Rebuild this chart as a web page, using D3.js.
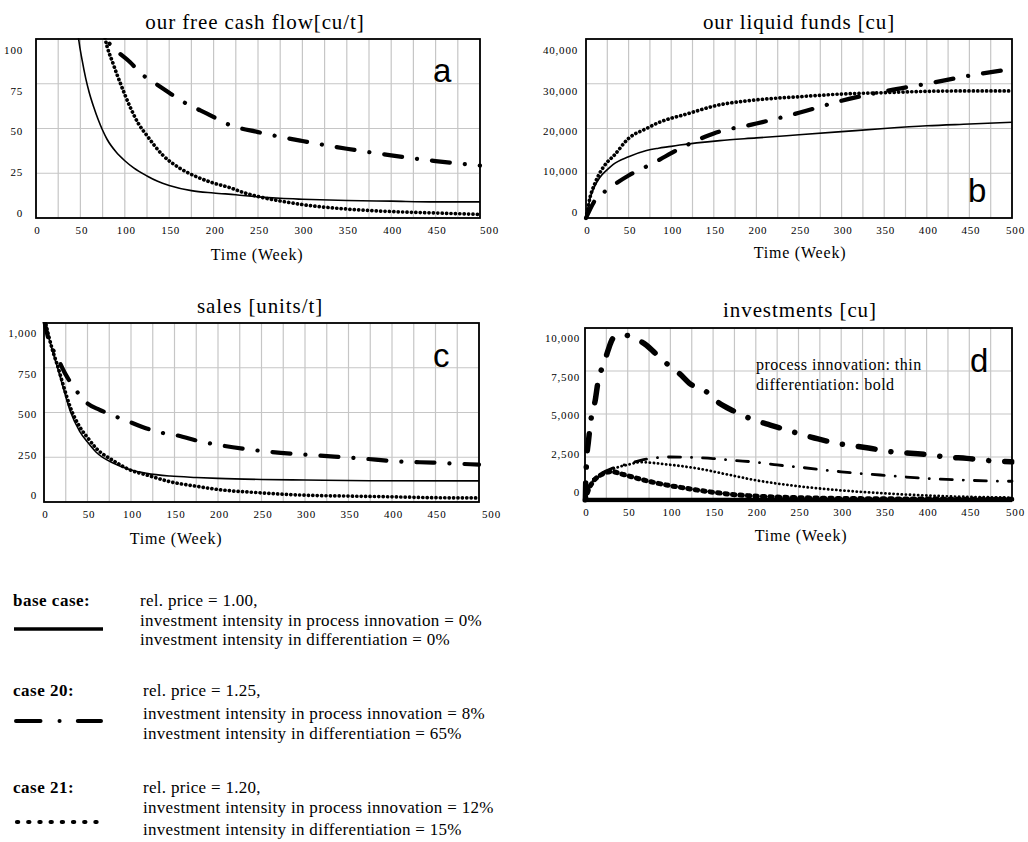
<!DOCTYPE html>
<html><head><meta charset="utf-8">
<script src="https://cdn.jsdelivr.net/npm/d3@7"></script>
<style>body{margin:0;background:#fff}svg{display:block}</style>
</head><body><svg id="chart" width="1028" height="842"></svg>
<script>
// ---------------- DATA ----------------
const xTickLabels = [0,50,100,150,200,250,300,350,400,450,500];
const xGrid = d3.range(0, 501, 25);

// a: our free cash flow [cu/t]   ([week, value])
const fcfTicks = [0,25,50,75,100];
const fcfBase   = [[40,140],[45,114],[48,100],[52,88],[56,78],[60,70],[65,62],[70,55],[75,49],[80,44],[90,37],[100,32],[110,28],[125,23.5],[137,20.5],[150,18.2],[175,15.3],[200,14],[225,13],[250,11.8],[275,11],[300,10.5],[350,9.8],[400,9.4],[450,9],[500,9]];
const fcfCase20 = [[72,115],[76,106],[80,100],[90,94],[106,87],[120,80],[132,76],[150,70],[162,66],[175,62.5],[192,58.5],[218,52],[250,48],[300,43],[350,38.7],[400,35],[450,31.8],[500,29.3]];
const fcfCase21 = [[70,125],[75,108],[78,100],[87,86],[96,74],[106,62],[115,53],[125,46],[143,35],[162,27.8],[181,23],[200,19.5],[218,17],[235,14],[250,12],[275,9.5],[300,7.5],[350,5],[400,3.6],[450,2.8],[500,2]];

// b: our liquid funds [cu]
const fundsTicks = [0,10000,20000,30000,40000];
const fundsBase   = [[0,0],[5,4500],[10,7000],[16,9000],[25,10800],[32,12000],[50,13700],[71,15100],[85,15600],[100,16000],[110,16300],[157,17300],[200,17900],[250,18600],[300,19300],[350,20000],[400,20600],[450,21000],[500,21400]];
const fundsCase20 = [[0,0],[10,3800],[25,6300],[32,7300],[50,9500],[75,11900],[87,13100],[100,14500],[125,16900],[139,18100],[150,18900],[200,21100],[250,23500],[300,26200],[350,28300],[400,30000],[450,31800],[500,33300]];
const fundsCase21 = [[0,0],[5,4800],[10,7500],[16,10000],[25,12500],[32,13800],[50,17800],[71,20000],[85,21300],[100,22300],[110,22800],[157,25300],[200,26400],[250,27100],[300,27700],[350,28000],[400,28300],[450,28400],[500,28400]];

// c: sales [units/t]
const salesTicks = [0,250,500,750,1000];
const salesBase   = [[0,1040],[5,930],[10,840],[15,760],[22,640],[30,510],[41,395],[50,335],[60,278],[80,216],[99,180],[118,160],[145,145],[175,137],[200,132],[250,126],[300,123],[375,119],[500,118]];
const salesCase20 = [[0,1020],[7,880],[13,830],[24,720],[30,672],[41,598],[49,555],[64,515],[76,490],[99,446],[118,411],[137,385],[150,375],[180,338],[217,306],[256,282],[305,263],[363,244],[409,226],[447,220],[490,211],[500,209]];
const salesCase21 = [[0,1040],[5,935],[10,845],[15,770],[22,655],[30,532],[41,420],[50,360],[60,300],[80,230],[99,179],[118,151],[145,113],[175,88],[200,70],[250,51],[300,38],[350,33],[400,29],[450,24],[500,23]];

// d: investments [cu]
const invTicks = [0,2500,5000,7500,10000];
const invBase         = [[0,0],[500,0]];
const invCase20Diff   = [[0,0],[2,2400],[4,3400],[8,5000],[12,5800],[15,6800],[23,8050],[27,8700],[33,9400],[45,9600],[58,9400],[72,9000],[82,8550],[100,7750],[111,7330],[122,6800],[142,6300],[154,5750],[175,5150],[200,4615],[217,4360],[243,3970],[256,3780],[273,3550],[299,3260],[316,3140],[332,3020],[363,2780],[381,2720],[398,2650],[428,2480],[447,2420],[463,2330],[500,2220]];
const invCase20Proc   = [[0,0],[5,900],[15,1400],[30,1800],[50,2100],[65,2300],[78,2420],[100,2500],[121,2480],[150,2410],[175,2300],[200,2200],[225,2040],[256,1880],[300,1640],[357,1410],[398,1260],[442,1160],[478,1100],[500,1090]];
const invCase21Proc   = [[0,0],[5,800],[15,1300],[30,1750],[50,2050],[66,2200],[92,2090],[131,1840],[170,1450],[200,1150],[250,800],[300,560],[350,390],[400,260],[450,180],[500,140]];
const invCase21Diff   = [[0,0],[5,700],[10,1100],[20,1500],[31,1650],[45,1480],[72,1120],[100,830],[111,740],[150,450],[178,300],[220,180],[275,110],[350,70],[425,50],[500,40]];

// legend
const legendCases = ["base case:", "case 20:", "case 21:"];
const legendLines = [
  ["rel. price = 1.00,", "investment intensity in process innovation = 0%", "investment intensity in differentiation = 0%"],
  ["rel. price = 1.25,", "investment intensity in process innovation = 8%", "investment intensity in differentiation = 65%"],
  ["rel. price = 1.20,", "investment intensity in process innovation = 12%", "investment intensity in differentiation = 15%"]
];

// ---------------- STYLES / LAYOUT ----------------
const styles = {
  solid:       {w:1.6, dash:null},
  dashdot:     {w:4.2, dash:"18 15 0.1 15"},
  dotted:      {w:3.7, dash:"0.1 4.3"},
  thinDashdot: {w:2.8, dash:"12 11 0.1 11"},
  boldDashdot: {w:5.5, dash:"17 16 0.1 16"},
  thinDotted:  {w:2.8, dash:"0.1 4"},
  boldDotted:  {w:5,   dash:"2.5 5"},
  boldSolid:   {w:4.5, dash:null}
};
const SERIF = "'Liberation Serif','Times New Roman',serif";
const SANS = "'Liberation Sans',Arial,sans-serif";

const panels = [
  {id:"a", box:{l:36,r:480,t:39,b:218}, domain:[0,100], ticks:fcfTicks, labRight:23, labTop:50, labBot:212.5,
   title:"our free cash flow[cu/t]", titleX:255, titleY:29, xlabX:257, xlabY:260, lastShift:9,
   letterX:433, letterY:82,
   series:[[fcfBase,"solid"],[fcfCase21,"dotted"],[fcfCase20,"dashdot"]]},
  {id:"b", box:{l:586,r:1012,t:39,b:218}, domain:[0,40000], ticks:fundsTicks, labRight:578, labTop:50.3, labBot:211.7,
   title:"our liquid funds [cu]", titleX:799, titleY:29, xlabX:800, xlabY:258, lastShift:3,
   letterX:968, letterY:202,
   series:[[fundsBase,"solid"],[fundsCase21,"dotted"],[fundsCase20,"dashdot"]]},
  {id:"c", box:{l:44,r:479,t:323,b:502}, domain:[0,1000], ticks:salesTicks, labRight:37, labTop:333.3, labBot:495,
   title:"sales [units/t]", titleX:260, titleY:313, xlabX:176, xlabY:544, lastShift:12,
   letterX:433, letterY:367,
   series:[[salesBase,"solid"],[salesCase21,"dotted"],[salesCase20,"dashdot"]]},
  {id:"d", box:{l:585,r:1012,t:328,b:500}, domain:[0,10000], ticks:invTicks, labRight:580, labTop:338.3, labBot:492,
   title:"investments [cu]", titleX:800, titleY:317, xlabX:801, xlabY:541, lastShift:3,
   letterX:970, letterY:372,
   series:[[invCase21Diff,"boldDotted"],[invCase21Proc,"thinDotted"],[invCase20Proc,"thinDashdot"],[invCase20Diff,"boldDashdot"],[invBase,"boldSolid"]],
   note:["process innovation: thin","differentiation: bold"]}
];

// ---------------- DRAW ----------------
const svg = d3.select("#chart");
svg.append("rect").attr("width",1028).attr("height",842).attr("fill","#fff");
const defs = svg.append("defs");

panels.forEach(p => {
  const B = p.box;
  const x = d3.scaleLinear().domain([0,500]).range([B.l, B.r]);
  const y = d3.scaleLinear().domain(p.domain).range([B.b, B.t]);
  const yLab = d3.scaleLinear().domain(p.domain).range([p.labBot, p.labTop]);
  const g = svg.append("g");

  // grid
  g.append("g").selectAll("line").data(xGrid).join("line")
    .attr("x1", d=>x(d)).attr("x2", d=>x(d)).attr("y1", B.t).attr("y2", B.b)
    .attr("stroke","#c6c6c6").attr("stroke-width",1.2);
  g.append("g").selectAll("line").data(p.ticks).join("line")
    .attr("x1", B.l).attr("x2", B.r).attr("y1", d=>y(d)).attr("y2", d=>y(d))
    .attr("stroke","#c6c6c6").attr("stroke-width",1.2);

  // y labels
  const ya = g.append("g").attr("transform",`translate(${p.labRight},0)`)
    .call(d3.axisLeft(yLab).tickValues(p.ticks).tickSize(0).tickPadding(0).tickFormat(d3.format(",")));
  ya.select(".domain").remove();
  ya.selectAll("text").attr("font-family",SERIF).attr("font-size",11).attr("letter-spacing",0.8).attr("fill","#000");

  // x labels
  const xa = g.append("g").attr("transform",`translate(0,${B.b})`)
    .call(d3.axisBottom(x).tickValues(xTickLabels).tickSize(0).tickPadding(8.5));
  xa.select(".domain").remove();
  xa.selectAll("text").attr("font-family",SERIF).attr("font-size",11).attr("letter-spacing",0.8).attr("fill","#000")
    .attr("dx", d => d===500 ? p.lastShift : 1);

  // clip
  const cid = "clip-"+p.id;
  defs.append("clipPath").attr("id",cid).append("rect")
    .attr("x",B.l-2.5).attr("y",B.t-1).attr("width",B.r-B.l+5).attr("height",B.b-B.t+3.5);

  const line = d3.line().x(d=>x(d[0])).y(d=>y(d[1])).curve(d3.curveMonotoneX);
  const lg = g.append("g").attr("clip-path",`url(#${cid})`);
  p.series.forEach(([data, st]) => {
    const s = styles[st];
    lg.append("path").attr("d", line(data)).attr("fill","none").attr("stroke","#000")
      .attr("stroke-width", s.w).attr("stroke-linecap", s.dash ? "round" : "butt")
      .attr("stroke-linejoin","round")
      .attr("stroke-dasharray", s.dash);
  });

  // border
  g.append("rect").attr("x",B.l).attr("y",B.t).attr("width",B.r-B.l).attr("height",B.b-B.t)
    .attr("fill","none").attr("stroke","#000").attr("stroke-width",1.8);

  // title, axis label, letter
  g.append("text").attr("x",p.titleX).attr("y",p.titleY).attr("text-anchor","middle")
    .attr("font-family",SERIF).attr("font-size",21).attr("letter-spacing",0.9).text(p.title);
  g.append("text").attr("x",p.xlabX).attr("y",p.xlabY).attr("text-anchor","middle")
    .attr("font-family",SERIF).attr("font-size",16).attr("letter-spacing",0.8).text("Time (Week)");
  g.append("text").attr("x",p.letterX).attr("y",p.letterY)
    .attr("font-family",SANS).attr("font-size",33).text(p.id);

  if (p.note) {
    p.note.forEach((t,i) => g.append("text").attr("x",756).attr("y",370+i*20)
      .attr("font-family",SERIF).attr("font-size",16).attr("letter-spacing",0.5).text(t));
  }
});

// ---------------- LEGEND ----------------
const leg = svg.append("g");
const legBase = [606, 696, 793];
const legText = [[606,625.5,645],[696,719,739],[793,813,835]];
const legTextX = [140,143,143];
legendCases.forEach((c,i) => {
  leg.append("text").attr("x",13).attr("y",legBase[i]).attr("font-family",SERIF)
    .attr("font-weight","bold").attr("font-size",17).attr("letter-spacing",0.5).text(c);
  legendLines[i].forEach((t,j) => {
    leg.append("text").attr("x",legTextX[i]).attr("y",legText[i][j]).attr("font-family",SERIF)
      .attr("font-size",17).attr("letter-spacing",0.3).text(t);
  });
});
// samples
leg.append("line").attr("x1",14).attr("x2",103).attr("y1",629).attr("y2",629)
  .attr("stroke","#000").attr("stroke-width",3.7);
leg.append("line").attr("x1",16).attr("x2",101).attr("y1",721).attr("y2",721)
  .attr("stroke","#000").attr("stroke-width",4).attr("stroke-linecap","round")
  .attr("stroke-dasharray","24.5 19 0.1 18.2 23.2");
leg.append("line").attr("x1",17).attr("x2",97).attr("y1",822).attr("y2",822)
  .attr("stroke","#000").attr("stroke-width",4.2).attr("stroke-linecap","round")
  .attr("stroke-dasharray","1.2 10");
</script></body></html>
